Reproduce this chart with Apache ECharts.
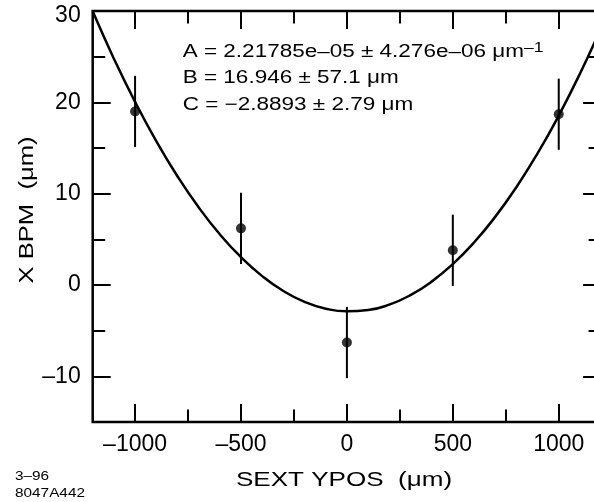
<!DOCTYPE html>
<html>
<head>
<meta charset="utf-8">
<script src="https://cdn.jsdelivr.net/npm/echarts@6/dist/echarts.min.js"></script>
<style>
html,body{margin:0;padding:0;background:#fff;}
#chart{width:594px;height:502px;}
</style>
</head>
<body>
<div id="chart"></div>
<script>
// Measured points (SEXT YPOS, X BPM) with error bars
const pointX = [-1000, -500, 0, 500, 1000];
const pointY = [19.0, 6.2, -6.3, 3.8, 18.7];
const pointErr = [3.9, 3.9, 3.9, 3.9, 3.9];

// Fitted parabola
const curveX = [-1200, -1100, -1000, -900, -800, -700, -600, -500, -400, -300, -200, -100, 0,
                100, 200, 300, 400, 500, 600, 700, 800, 900, 1000, 1100, 1200];
const curveY = [29.96, 24.78, 20.05, 15.76, 11.91, 8.51, 5.55, 3.04, 0.97, -0.66, -1.85, -2.59, -2.88,
                -2.74, -2.15, -1.11, 0.37, 2.29, 4.65, 7.46, 10.71, 14.40, 18.54, 23.13, 28.15];

// Axis ticks
const xMajor = [-1000, -500, 0, 500, 1000];
const xMinor = [-750, -250, 250, 750];
const yMajor = [-10, 0, 10, 20, 30];
const yMinor = [-5, 5, 15, 25];

const fitText = [
  'A = 2.21785e\u201305 \u00b1 4.276e\u201306 \u03bcm{sup|\u20131}',
  'B = 16.946 \u00b1 57.1 \u03bcm',
  'C = \u22122.8893 \u00b1 2.79 \u03bcm'
];
const xName = 'SEXT YPOS  (\u03bcm)';
const yName = 'X BPM  (\u03bcm)';
const stamp = ['3\u201396', '8047A442'];

const FONT = '"Liberation Sans", Arial, Helvetica, sans-serif';
const chart = echarts.init(document.getElementById('chart'), null, {renderer: 'canvas'});

const fmt = v => String(v).replace('-', '\u2013');

function xAx(pos, vals, len, labels) {
  return {
    type: 'value', min: -1200, max: 1200, position: pos,
    axisLine: {show: false, onZero: false},
    splitLine: {show: false},
    axisTick: {show: true, inside: true, length: len, customValues: vals, lineStyle: {color: '#000', width: 2}},
    axisLabel: labels ? {show: true, customValues: vals, formatter: fmt, fontFamily: FONT, fontSize: 23, color: '#000', margin: 11} : {show: false}
  };
}
function yAx(pos, vals, len, labels) {
  return {
    type: 'value', min: -15, max: 30, position: pos,
    axisLine: {show: false, onZero: false},
    splitLine: {show: false},
    axisTick: {show: true, inside: true, length: len, customValues: vals, lineStyle: {color: '#000', width: 2}},
    axisLabel: labels ? {
      show: true, customValues: vals,
      formatter: v => (v === 30 ? '{t|30}' : fmt(v)),
      rich: {t: {fontFamily: FONT, fontSize: 23, color: '#000', padding: [10, 0, 0, 0]}},
      fontFamily: FONT, fontSize: 23, color: '#000', margin: 12
    } : {show: false}
  };
}

const option = {
  animation: false,
  backgroundColor: '#fff',
  grid: {
    left: 92.7, top: 11, width: 508.4, height: 411,
    show: true, borderColor: '#000', borderWidth: 2.5, backgroundColor: 'transparent',
    containLabel: false, outerBoundsMode: 'none'
  },
  xAxis: [
    xAx('bottom', xMajor, 18, true),
    xAx('bottom', xMinor, 12.5, false),
    xAx('top', xMajor, 18, false),
    xAx('top', xMinor, 12.5, false)
  ],
  yAxis: [
    yAx('left', yMajor, 18, true),
    yAx('left', yMinor, 12.5, false),
    yAx('right', yMajor, 18, false),
    yAx('right', yMinor, 12.5, false)
  ],
  series: [
    {
      type: 'line', xAxisIndex: 0, yAxisIndex: 0,
      data: curveX.map((x, i) => [x, curveY[i]]),
      showSymbol: false, smooth: 0.5, clip: true,
      lineStyle: {color: '#000', width: 2.5, join: 'round'}
    },
    {
      type: 'custom', xAxisIndex: 0, yAxisIndex: 0,
      data: pointX.map((x, i) => [x, pointY[i], pointErr[i]]),
      renderItem: function (params, api) {
        const x = api.value(0), y = api.value(1), e = api.value(2);
        const p1 = api.coord([x, y - e]);
        const p2 = api.coord([x, y + e]);
        return {
          type: 'line',
          shape: {x1: p1[0], y1: p1[1], x2: p2[0], y2: p2[1]},
          style: {stroke: '#000', lineWidth: 2}
        };
      }
    },
    {
      type: 'scatter', xAxisIndex: 0, yAxisIndex: 0,
      data: pointX.map((x, i) => [x, pointY[i]]),
      symbol: 'circle', symbolSize: 10,
      itemStyle: {color: '#000'}
    }
  ],
  graphic: [
    {type: 'text', x: 182.7, y: 51.7, scaleX: 1.25,
     style: {text: fitText[0], font: '18px ' + FONT, fill: '#000', align: 'left', verticalAlign: 'middle', lineHeight: 22,
             rich: {sup: {fontSize: 14, fontFamily: FONT, fill: '#000', verticalAlign: 'top', lineHeight: 14}}}},
    {type: 'text', x: 182.7, y: 78.3, scaleX: 1.25,
     style: {text: fitText[1], font: '18px ' + FONT, fill: '#000', align: 'left', verticalAlign: 'middle'}},
    {type: 'text', x: 182.7, y: 105, scaleX: 1.25,
     style: {text: fitText[2], font: '18px ' + FONT, fill: '#000', align: 'left', verticalAlign: 'middle'}},
    {type: 'text', x: 344, y: 480.5, scaleX: 1.24,
     style: {text: xName, font: '21px ' + FONT, fill: '#000', align: 'center', verticalAlign: 'middle'}},
    {type: 'text', x: 27, y: 210, scaleX: 1.22, rotation: Math.PI / 2,
     style: {text: yName, font: '21px ' + FONT, fill: '#000', align: 'center', verticalAlign: 'middle'}},
    {type: 'text', x: 15, y: 476, scaleX: 1.18,
     style: {text: stamp[0], font: '13px ' + FONT, fill: '#000', align: 'left', verticalAlign: 'middle'}},
    {type: 'text', x: 15, y: 493, scaleX: 1.18,
     style: {text: stamp[1], font: '13px ' + FONT, fill: '#000', align: 'left', verticalAlign: 'middle'}}
  ]
};
chart.setOption(option);
</script>
</body>
</html>
